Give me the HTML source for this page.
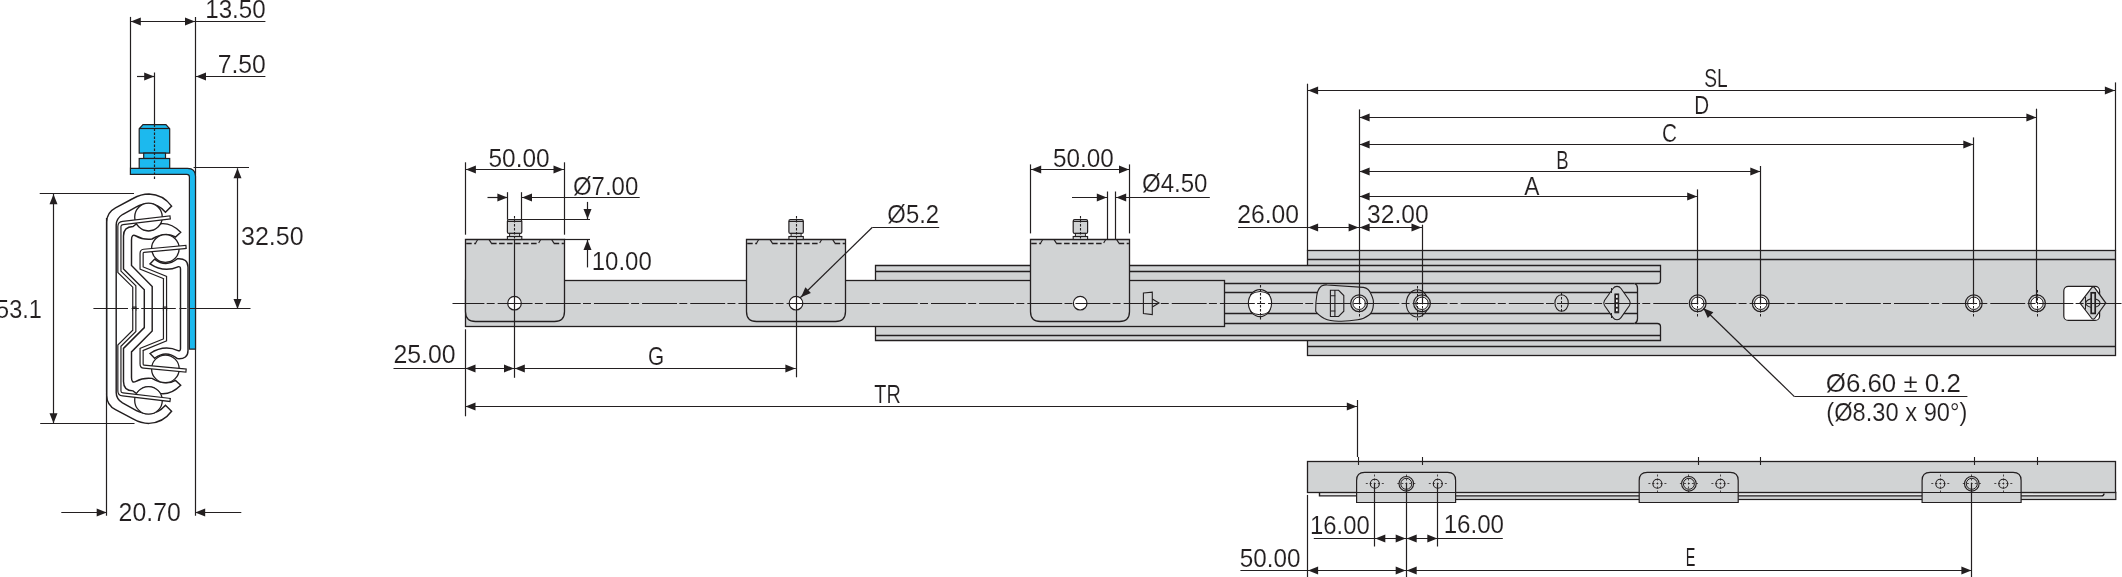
<!DOCTYPE html>
<html><head><meta charset="utf-8"><style>
html,body{margin:0;padding:0;background:#fff;width:2122px;height:577px;overflow:hidden}
svg{display:block;will-change:transform}
text{font-family:"Liberation Sans",sans-serif;fill:#231f20;stroke:#fff;stroke-width:0.12px}
</style></head><body>
<svg width="2122" height="577" viewBox="0 0 2122 577" stroke="#231f20" fill="none">
<line x1="130.5" y1="16.9" x2="130.5" y2="168.3" stroke-width="1.2" />
<line x1="195.5" y1="16.9" x2="195.5" y2="515.8" stroke-width="1.2" />
<line x1="130.3" y1="21.5" x2="265.4" y2="21.5" stroke-width="1.2" />
<polygon points="130.8,21.5 140.8,17.5 140.8,25.5" fill="#231f20" stroke="none"/>
<polygon points="195.0,21.5 185.0,17.5 185.0,25.5" fill="#231f20" stroke="none"/>
<text x="205.23" y="17.70" font-size="25" textLength="60.51" lengthAdjust="spacingAndGlyphs">13.50</text>
<line x1="137" y1="76.5" x2="154.6" y2="76.5" stroke-width="1.2" />
<polygon points="154.2,76.5 144.2,72.5 144.2,80.5" fill="#231f20" stroke="none"/>
<line x1="195.8" y1="76.5" x2="265.4" y2="76.5" stroke-width="1.2" />
<polygon points="196.0,76.5 206.0,72.5 206.0,80.5" fill="#231f20" stroke="none"/>
<text x="217.71" y="72.80" font-size="25" textLength="48.15" lengthAdjust="spacingAndGlyphs">7.50</text>
<line x1="154.5" y1="72.5" x2="154.5" y2="124.6" stroke-width="1.2" />
<line x1="193.6" y1="167.5" x2="249" y2="167.5" stroke-width="1.2" />
<line x1="237.5" y1="168.3" x2="237.5" y2="308.9" stroke-width="1.2" />
<polygon points="237.5,168.3 233.5,178.3 241.5,178.3" fill="#231f20" stroke="none"/>
<polygon points="237.5,308.9 233.5,298.9 241.5,298.9" fill="#231f20" stroke="none"/>
<text x="241.00" y="245.30" font-size="25" textLength="62.67" lengthAdjust="spacingAndGlyphs">32.50</text>
<line x1="39.7" y1="193.5" x2="134" y2="193.5" stroke-width="1.2" />
<line x1="40.2" y1="423.5" x2="134.5" y2="423.5" stroke-width="1.2" />
<line x1="53.5" y1="193.8" x2="53.5" y2="423.6" stroke-width="1.2" />
<polygon points="53.5,194.3 49.5,204.3 57.5,204.3" fill="#231f20" stroke="none"/>
<polygon points="53.5,423.3 49.5,413.3 57.5,413.3" fill="#231f20" stroke="none"/>
<text x="-3.94" y="317.70" font-size="25" textLength="45.77" lengthAdjust="spacingAndGlyphs">53.1</text>
<line x1="61.3" y1="512.5" x2="106.7" y2="512.5" stroke-width="1.2" />
<polygon points="106.7,512.5 96.7,508.5 96.7,516.5" fill="#231f20" stroke="none"/>
<line x1="195.2" y1="512.5" x2="241.3" y2="512.5" stroke-width="1.2" />
<polygon points="195.2,512.5 205.2,508.5 205.2,516.5" fill="#231f20" stroke="none"/>
<line x1="106.5" y1="218" x2="106.5" y2="515.8" stroke-width="1.2" />
<text x="118.61" y="521.40" font-size="25" textLength="62.15" lengthAdjust="spacingAndGlyphs">20.70</text>
<g id="half" fill="none" stroke-width="1.45">
<path d="M106.7,308.7 V222 Q106.7,212.5 115.5,207.8 L133,198.5 Q141,194 149,194 Q163,194.5 171.6,206.1 L165.5,212.2 Q158,203.8 149,203.8 Q142,203.8 136.4,206.8 L122.5,214.5 Q116.2,218.5 116.2,225 V308.7"/>
<path d="M144.3,308.7 V289.8 L123.5,269 V236 Q123.5,226.8 133,226.5 L136.5,223.8 Q148.5,237.8 160.5,223.8 Q171,222.5 180.7,232.2 L175.5,237 Q165.5,231.2 152,239 Q143,240 136,236 Q131.5,233.5 131.5,240 V265.5 L152.2,286.5 V308.7"/>
<path d="M180.5,308.7 V269 Q180.5,266 178,266.8 Q164,273 150,263.9 L154.6,259.1 Q166,268 177.4,258.8 Q188,258 188,267 V308.7"/>
<circle cx="148.5" cy="217" r="13.8" fill="#fff" stroke-width="1.3"/>
<circle cx="165.4" cy="248.5" r="13.8" fill="#fff" stroke-width="1.3"/>
<path d="M168.6,217.6 L122.8,223 Q119.4,223.4 119.4,226.5 V271.8 L134.3,286.5 V308.7" stroke-width="4.3" stroke-linecap="square"/>
<path d="M168.6,217.6 L122.8,223 Q119.4,223.4 119.4,226.5 V271.8 L134.3,286.5 V308.7" stroke="#fff" stroke-width="1.9" stroke-linecap="square"/>
<path d="M184.5,247 L143.8,250.8 Q141.6,251 141.6,253.5 V268 L165,277.5 V308.7" stroke-width="4.3" stroke-linecap="square"/>
<path d="M184.5,247 L143.8,250.8 Q141.6,251 141.6,253.5 V268 L165,277.5 V308.7" stroke="#fff" stroke-width="1.9" stroke-linecap="square"/>
</g>
<use href="#half" transform="translate(0,617.4) scale(1,-1)"/>
<path d="M130.4,168.3 H187.5 Q195.5,168.3 195.5,176.3 V349.1 H189.4 V177 Q189.4,174.4 186.8,174.4 H130.4 Z" fill="#1cb9ee" stroke-width="1.2"/>
<path d="M143,124.6 H165.9 L169.7,128.8 V153.1 H139.2 V128.8 Z" fill="#1cb9ee" stroke-width="1.2"/>
<rect x="143.7" y="153.1" width="21.8" height="5.4" fill="#1cb9ee" stroke-width="1.2"/>
<rect x="139.2" y="158.5" width="30.5" height="9.8" fill="#1cb9ee" stroke-width="1.2"/>
<line x1="139.2" y1="128.5" x2="169.7" y2="128.5" stroke-width="1.2" />
<line x1="154.5" y1="124.6" x2="154.5" y2="180" stroke-width="1.2" stroke-dasharray="2.5 1.5"/>
<line x1="93.4" y1="308.5" x2="189.6" y2="308.5" stroke-width="1.2" stroke-dasharray="34.6 3.6 7.2 2.4"/>
<line x1="189.6" y1="308.5" x2="250.5" y2="308.5" stroke-width="1.2" />
<rect x="1307.5" y="250.5" width="808" height="105" fill="#d1d3d4" stroke-width="1.3"/>
<line x1="1307.5" y1="259.5" x2="2115.5" y2="259.5" stroke-width="1.3" />
<line x1="1307.5" y1="346.5" x2="2115.5" y2="346.5" stroke-width="1.3" />
<path d="M875.5,265.5 H1660.5 V280.3 Q1660.5,283.5 1657.3,283.5 H1634.6 Q1637.5,284.8 1637.5,288.3 V318.7 Q1637.5,322.2 1634.6,323.5 H1657.3 Q1660.5,323.5 1660.5,326.7 V340.5 H875.5 Z" fill="#d1d3d4" stroke-width="1.3"/>
<line x1="875.5" y1="271.5" x2="1660.5" y2="271.5" stroke-width="1.3" />
<line x1="875.5" y1="335.5" x2="1660.5" y2="335.5" stroke-width="1.3" />
<line x1="1224.5" y1="283.5" x2="1634.6" y2="283.5" stroke-width="1.3" />
<line x1="1224.5" y1="323.5" x2="1634.6" y2="323.5" stroke-width="1.3" />
<line x1="1224.5" y1="292.5" x2="1637.5" y2="292.5" stroke-width="1.3" />
<line x1="1224.5" y1="313.5" x2="1637.5" y2="313.5" stroke-width="1.3" />
<rect x="465.5" y="280.5" width="759" height="46" fill="#d1d3d4" stroke-width="1.3"/>
<path d="M465.5,239.5 H564.5 V311.5 Q564.5,321.5 554.5,321.5 H475.5 Q465.5,321.5 465.5,311.5 Z" fill="#d1d3d4" stroke-width="1.3"/>
<line x1="466.2" y1="243.5" x2="476.1" y2="243.5" stroke-width="1.3" stroke-dasharray="5.5 2.5"/>
<line x1="491.1" y1="243.5" x2="538.7" y2="243.5" stroke-width="1.3" stroke-dasharray="5.5 2.5"/>
<line x1="553.7" y1="243.5" x2="563.9" y2="243.5" stroke-width="1.3" stroke-dasharray="5.5 2.5"/>
<line x1="475.7" y1="243.1" x2="477.7" y2="239.6" stroke-width="1.1" />
<line x1="491.3" y1="243.1" x2="489.1" y2="239.6" stroke-width="1.1" />
<line x1="538.7" y1="243.1" x2="540.7" y2="239.6" stroke-width="1.1" />
<line x1="553.9" y1="243.1" x2="551.7" y2="239.6" stroke-width="1.1" />
<rect x="507.40000000000003" y="219.7" width="14.4" height="13.7" rx="1.5" fill="#d1d3d4" stroke-width="1.2"/>
<line x1="507.40000000000003" y1="221.5" x2="521.8000000000001" y2="221.5" stroke-width="1.0" />
<rect x="509.6" y="233.4" width="10" height="3.1" fill="#d1d3d4" stroke-width="1.0"/>
<rect x="507.40000000000003" y="236.5" width="14.4" height="3" fill="#d1d3d4" stroke-width="1.1"/>
<line x1="514.5" y1="216" x2="514.5" y2="239" stroke-width="1.1" stroke-dasharray="2.5 1.5"/>
<path d="M746.5,239.5 H845.5 V311.5 Q845.5,321.5 835.5,321.5 H756.5 Q746.5,321.5 746.5,311.5 Z" fill="#d1d3d4" stroke-width="1.3"/>
<line x1="747.2" y1="243.5" x2="757.1" y2="243.5" stroke-width="1.3" stroke-dasharray="5.5 2.5"/>
<line x1="772.1" y1="243.5" x2="819.7" y2="243.5" stroke-width="1.3" stroke-dasharray="5.5 2.5"/>
<line x1="834.7" y1="243.5" x2="844.9" y2="243.5" stroke-width="1.3" stroke-dasharray="5.5 2.5"/>
<line x1="756.7" y1="243.1" x2="758.7" y2="239.6" stroke-width="1.1" />
<line x1="772.3" y1="243.1" x2="770.1" y2="239.6" stroke-width="1.1" />
<line x1="819.7" y1="243.1" x2="821.7" y2="239.6" stroke-width="1.1" />
<line x1="834.9" y1="243.1" x2="832.7" y2="239.6" stroke-width="1.1" />
<rect x="788.9" y="219.7" width="14.4" height="13.7" rx="1.5" fill="#d1d3d4" stroke-width="1.2"/>
<line x1="788.9" y1="221.5" x2="803.3000000000001" y2="221.5" stroke-width="1.0" />
<rect x="791.1" y="233.4" width="10" height="3.1" fill="#d1d3d4" stroke-width="1.0"/>
<rect x="788.9" y="236.5" width="14.4" height="3" fill="#d1d3d4" stroke-width="1.1"/>
<line x1="796.5" y1="216" x2="796.5" y2="239" stroke-width="1.1" stroke-dasharray="2.5 1.5"/>
<path d="M1030.5,239.5 H1129.5 V311.5 Q1129.5,321.5 1119.5,321.5 H1040.5 Q1030.5,321.5 1030.5,311.5 Z" fill="#d1d3d4" stroke-width="1.3"/>
<line x1="1031.2" y1="243.5" x2="1041.1" y2="243.5" stroke-width="1.3" stroke-dasharray="5.5 2.5"/>
<line x1="1056.1" y1="243.5" x2="1103.7" y2="243.5" stroke-width="1.3" stroke-dasharray="5.5 2.5"/>
<line x1="1118.7" y1="243.5" x2="1128.9" y2="243.5" stroke-width="1.3" stroke-dasharray="5.5 2.5"/>
<line x1="1040.7" y1="243.1" x2="1042.7" y2="239.6" stroke-width="1.1" />
<line x1="1056.3" y1="243.1" x2="1054.1" y2="239.6" stroke-width="1.1" />
<line x1="1103.7" y1="243.1" x2="1105.7" y2="239.6" stroke-width="1.1" />
<line x1="1118.9" y1="243.1" x2="1116.7" y2="239.6" stroke-width="1.1" />
<rect x="1073.2" y="219.7" width="14.4" height="13.7" rx="1.5" fill="#d1d3d4" stroke-width="1.2"/>
<line x1="1073.2" y1="221.5" x2="1087.6000000000001" y2="221.5" stroke-width="1.0" />
<rect x="1075.4" y="233.4" width="10" height="3.1" fill="#d1d3d4" stroke-width="1.0"/>
<rect x="1073.2" y="236.5" width="14.4" height="3" fill="#d1d3d4" stroke-width="1.1"/>
<line x1="1080.5" y1="216" x2="1080.5" y2="239" stroke-width="1.1" stroke-dasharray="2.5 1.5"/>
<circle cx="514.5" cy="303.2" r="6.8" fill="#fff" stroke-width="1.2"/>
<circle cx="796" cy="303.2" r="6.8" fill="#fff" stroke-width="1.2"/>
<circle cx="1080.2" cy="303.2" r="6.8" fill="#fff" stroke-width="1.2"/>
<path d="M1143.4,293 L1152.3,292.2 V314.6 L1143.4,313.6 Z" fill="#d1d3d4" stroke-width="1.1"/>
<path d="M1152.3,299.1 L1159,303 L1152.3,307" fill="none" stroke-width="1.1"/>
<ellipse cx="1260" cy="303.1" rx="11.6" ry="13.5" fill="#fff" stroke-width="1.2"/>
<path d="M1250,295 Q1260,288 1270,295 M1250,311.5 Q1260,318 1270,311.5" fill="none" stroke-width="1.0"/>
<line x1="1260.5" y1="285" x2="1260.5" y2="319.5" stroke-width="1.1" stroke-dasharray="2.5 1.5"/>
<path d="M1321.4,286 Q1325,284.6 1327.2,285 L1363.4,287.4 Q1369,288.5 1371,294 Q1374,300 1373.4,304.6 Q1373,312 1369.1,315 Q1364,319 1357.7,319.8 Q1348,321.5 1338.6,321.2 Q1330,321 1324.3,318.4 Q1318,315 1315.7,311.2 Q1315.5,303 1316.7,296 Q1317.5,289.5 1321.4,286 Z" fill="#d1d3d4" stroke-width="1.1"/>
<path d="M1330.4,290.3 H1338.6 L1343.8,295.5 V311.2 L1338.6,316.5 H1330.4 Z M1334.9,290.3 V316.5" fill="none" stroke-width="1.1"/>
<path d="M1330.4,295.8 H1335.3 M1330.4,311 H1335.3" stroke-width="1.1"/>
<ellipse cx="1417.3" cy="303.4" rx="11" ry="13.6" fill="none" stroke-width="1.1"/>
<circle cx="1359.1" cy="303.3" r="8.4" fill="#d1d3d4" stroke-width="1.2"/>
<circle cx="1359.1" cy="303.3" r="6.2" fill="#fff" stroke-width="1.0"/>
<line x1="1359.5" y1="290" x2="1359.5" y2="317" stroke-width="1.0" stroke-dasharray="2.5 1.5"/>
<circle cx="1422" cy="303.3" r="8.4" fill="#d1d3d4" stroke-width="1.2"/>
<circle cx="1422" cy="303.3" r="6.2" fill="#fff" stroke-width="1.0"/>
<line x1="1422.5" y1="290" x2="1422.5" y2="317" stroke-width="1.0" stroke-dasharray="2.5 1.5"/>
<circle cx="1697.7" cy="303.3" r="8.4" fill="#d1d3d4" stroke-width="1.2"/>
<circle cx="1697.7" cy="303.3" r="6.2" fill="#fff" stroke-width="1.0"/>
<line x1="1697.5" y1="290" x2="1697.5" y2="317" stroke-width="1.0" stroke-dasharray="2.5 1.5"/>
<circle cx="1760.7" cy="303.3" r="8.4" fill="#d1d3d4" stroke-width="1.2"/>
<circle cx="1760.7" cy="303.3" r="6.2" fill="#fff" stroke-width="1.0"/>
<line x1="1760.5" y1="290" x2="1760.5" y2="317" stroke-width="1.0" stroke-dasharray="2.5 1.5"/>
<circle cx="1973.8" cy="303.3" r="8.4" fill="#d1d3d4" stroke-width="1.2"/>
<circle cx="1973.8" cy="303.3" r="6.2" fill="#fff" stroke-width="1.0"/>
<line x1="1973.5" y1="290" x2="1973.5" y2="317" stroke-width="1.0" stroke-dasharray="2.5 1.5"/>
<circle cx="2037" cy="303.3" r="8.4" fill="#d1d3d4" stroke-width="1.2"/>
<circle cx="2037" cy="303.3" r="6.2" fill="#fff" stroke-width="1.0"/>
<line x1="2037.5" y1="290" x2="2037.5" y2="317" stroke-width="1.0" stroke-dasharray="2.5 1.5"/>
<line x1="1417.5" y1="286" x2="1417.5" y2="321" stroke-width="1.0" stroke-dasharray="2.5 1.5"/>
<ellipse cx="1561.6" cy="303" rx="6.7" ry="8.2" fill="#d1d3d4" stroke-width="1.1"/>
<line x1="1561.5" y1="293" x2="1561.5" y2="313" stroke-width="1.0" stroke-dasharray="2.5 1.5"/>
<path d="M1617,286.4 Q1619.5,286.4 1621,288.5 L1629.5,300.5 Q1631,303 1629.5,305.5 L1621,317.6 Q1619.5,319.7 1617,319.7 Q1614.5,319.7 1613,317.6 L1604.5,305.5 Q1603,303 1604.5,300.5 L1613,288.5 Q1614.5,286.4 1617,286.4 Z" fill="#d1d3d4" stroke-width="1.1"/>
<rect x="1614.8" y="293.9" width="4" height="19" fill="#231f20" stroke-width="0.8"/>
<rect x="1616" y="295.2" width="1.7" height="2.6" fill="#fff" stroke="none"/>
<rect x="1616" y="299.6" width="1.7" height="2.6" fill="#fff" stroke="none"/>
<rect x="1616" y="304.2" width="1.7" height="2.6" fill="#fff" stroke="none"/>
<rect x="1616" y="308.6" width="1.7" height="2.6" fill="#fff" stroke="none"/>
<line x1="1611.5" y1="288" x2="1611.5" y2="293" stroke-width="1.0" />
<line x1="1611.5" y1="313" x2="1611.5" y2="318" stroke-width="1.0" />
<rect x="2063.8" y="286.4" width="35.8" height="34" rx="4.5" fill="#fff" stroke-width="1.2"/>
<path d="M2093.2,287 Q2094.2,287 2095,288.2 L2105.8,303.1 L2095,318 Q2094.2,319.2 2093.2,319.2 Q2092.2,319.2 2091.4,318 L2080,303.1 L2091.4,288.2 Q2092.2,287 2093.2,287 Z" fill="#d1d3d4" stroke-width="1.2"/>
<ellipse cx="2092.9" cy="303.1" rx="7.1" ry="4.3" fill="none" stroke-width="1.1"/>
<line x1="2085.5" y1="297" x2="2085.5" y2="309.5" stroke-width="1.0" />
<rect x="2091.2" y="292.8" width="4" height="20.6" fill="#d1d3d4" stroke-width="1.7"/>
<line x1="452.5" y1="303.5" x2="2122" y2="303.5" stroke-width="1.2" stroke-dasharray="34.9 2.3 7.95 3.0" stroke-dashoffset="3"/>
<line x1="465.5" y1="162.3" x2="465.5" y2="234.7" stroke-width="1.2" />
<line x1="564.5" y1="162.3" x2="564.5" y2="234.7" stroke-width="1.2" />
<line x1="465.4" y1="169.5" x2="564" y2="169.5" stroke-width="1.2" />
<polygon points="465.9,169.5 475.9,165.5 475.9,173.5" fill="#231f20" stroke="none"/>
<polygon points="563.5,169.5 553.5,165.5 553.5,173.5" fill="#231f20" stroke="none"/>
<text x="488.52" y="167.10" font-size="25" textLength="61.13" lengthAdjust="spacingAndGlyphs">50.00</text>
<line x1="487.5" y1="197.5" x2="507.9" y2="197.5" stroke-width="1.2" />
<polygon points="507.4,197.5 497.4,193.5 497.4,201.5" fill="#231f20" stroke="none"/>
<line x1="521.5" y1="197.5" x2="639.7" y2="197.5" stroke-width="1.2" />
<polygon points="522.0,197.5 532.0,193.5 532.0,201.5" fill="#231f20" stroke="none"/>
<line x1="507.5" y1="192.2" x2="507.5" y2="219.7" stroke-width="1.2" />
<line x1="521.5" y1="192.2" x2="521.5" y2="219.7" stroke-width="1.2" />
<text x="572.94" y="194.80" font-size="25" textLength="65.36" lengthAdjust="spacingAndGlyphs">Ø7.00</text>
<line x1="514.7" y1="219.5" x2="590" y2="219.5" stroke-width="1.2" />
<line x1="587.5" y1="201.9" x2="587.5" y2="219" stroke-width="1.2" />
<polygon points="587.5,219.0 583.5,209.0 591.5,209.0" fill="#231f20" stroke="none"/>
<line x1="563.7" y1="239.5" x2="590" y2="239.5" stroke-width="1.2" />
<line x1="587.5" y1="239.5" x2="587.5" y2="267.4" stroke-width="1.2" />
<polygon points="587.5,239.9 583.5,249.9 591.5,249.9" fill="#231f20" stroke="none"/>
<text x="591.74" y="270.10" font-size="25" textLength="60.10" lengthAdjust="spacingAndGlyphs">10.00</text>
<line x1="465.5" y1="329.3" x2="465.5" y2="416.3" stroke-width="1.2" />
<line x1="514.5" y1="239.4" x2="514.5" y2="377.8" stroke-width="1.2" />
<line x1="796.5" y1="239.4" x2="796.5" y2="377.3" stroke-width="1.2" />
<line x1="393.5" y1="368.5" x2="795.8" y2="368.5" stroke-width="1.2" />
<polygon points="465.5,368.5 475.5,364.5 475.5,372.5" fill="#231f20" stroke="none"/>
<polygon points="514.0,368.5 504.0,364.5 504.0,372.5" fill="#231f20" stroke="none"/>
<polygon points="514.8,368.5 524.8,364.5 524.8,372.5" fill="#231f20" stroke="none"/>
<polygon points="795.4,368.5 785.4,364.5 785.4,372.5" fill="#231f20" stroke="none"/>
<text x="393.41" y="363.10" font-size="25" textLength="62.15" lengthAdjust="spacingAndGlyphs">25.00</text>
<text x="647.97" y="364.90" font-size="25" textLength="16.13" lengthAdjust="spacingAndGlyphs">G</text>
<line x1="465" y1="406.5" x2="1357.3" y2="406.5" stroke-width="1.2" />
<polygon points="465.5,406.5 475.5,402.5 475.5,410.5" fill="#231f20" stroke="none"/>
<polygon points="1356.8,406.5 1346.8,402.5 1346.8,410.5" fill="#231f20" stroke="none"/>
<text x="874.30" y="402.90" font-size="25" textLength="26.45" lengthAdjust="spacingAndGlyphs">TR</text>
<line x1="1357.5" y1="400" x2="1357.5" y2="457" stroke-width="1.2" />
<line x1="800.2" y1="297.8" x2="872.4" y2="227.2" stroke-width="1.2" />
<line x1="872.4" y1="227.5" x2="939.2" y2="227.5" stroke-width="1.2" />
<polygon points="801.0,297.2 805.4,287.3 810.9,293.1" fill="#231f20" stroke="none"/>
<text x="887.35" y="222.80" font-size="25" textLength="51.70" lengthAdjust="spacingAndGlyphs">Ø5.2</text>
<line x1="1030.5" y1="164.4" x2="1030.5" y2="233.4" stroke-width="1.2" />
<line x1="1129.5" y1="164.4" x2="1129.5" y2="233.4" stroke-width="1.2" />
<line x1="1030.7" y1="169.5" x2="1129.5" y2="169.5" stroke-width="1.2" />
<polygon points="1031.2,169.5 1041.2,165.5 1041.2,173.5" fill="#231f20" stroke="none"/>
<polygon points="1129.0,169.5 1119.0,165.5 1119.0,173.5" fill="#231f20" stroke="none"/>
<text x="1053.03" y="167.00" font-size="25" textLength="60.82" lengthAdjust="spacingAndGlyphs">50.00</text>
<line x1="1107.5" y1="191.5" x2="1107.5" y2="239" stroke-width="1.2" />
<line x1="1115.5" y1="191.5" x2="1115.5" y2="239" stroke-width="1.2" />
<line x1="1072" y1="197.5" x2="1107.2" y2="197.5" stroke-width="1.2" />
<polygon points="1106.8,197.5 1096.8,193.5 1096.8,201.5" fill="#231f20" stroke="none"/>
<line x1="1115.8" y1="197.5" x2="1209.8" y2="197.5" stroke-width="1.2" />
<polygon points="1116.2,197.5 1126.2,193.5 1126.2,201.5" fill="#231f20" stroke="none"/>
<text x="1141.94" y="192.30" font-size="25" textLength="65.57" lengthAdjust="spacingAndGlyphs">Ø4.50</text>
<line x1="1307.5" y1="83.7" x2="1307.5" y2="250.8" stroke-width="1.2" />
<line x1="2115.5" y1="82.4" x2="2115.5" y2="250.8" stroke-width="1.2" />
<line x1="1359.5" y1="109.4" x2="1359.5" y2="303" stroke-width="1.2" />
<line x1="1422.5" y1="224.7" x2="1422.5" y2="303" stroke-width="1.2" />
<line x1="1697.5" y1="189.4" x2="1697.5" y2="303" stroke-width="1.2" />
<line x1="1760.5" y1="166" x2="1760.5" y2="303" stroke-width="1.2" />
<line x1="1973.5" y1="137.4" x2="1973.5" y2="303" stroke-width="1.2" />
<line x1="2036.5" y1="108.7" x2="2036.5" y2="303" stroke-width="1.2" />
<line x1="1307.6" y1="90.5" x2="2115.4" y2="90.5" stroke-width="1.2" />
<polygon points="1308.1,90.5 1318.1,86.5 1318.1,94.5" fill="#231f20" stroke="none"/>
<polygon points="2114.9,90.5 2104.9,86.5 2104.9,94.5" fill="#231f20" stroke="none"/>
<line x1="1359.1" y1="117.5" x2="2036.9" y2="117.5" stroke-width="1.2" />
<polygon points="1359.6,117.5 1369.6,113.5 1369.6,121.5" fill="#231f20" stroke="none"/>
<polygon points="2036.4,117.5 2026.4,113.5 2026.4,121.5" fill="#231f20" stroke="none"/>
<line x1="1359.1" y1="144.5" x2="1973.8" y2="144.5" stroke-width="1.2" />
<polygon points="1359.6,144.5 1369.6,140.5 1369.6,148.5" fill="#231f20" stroke="none"/>
<polygon points="1973.3,144.5 1963.3,140.5 1963.3,148.5" fill="#231f20" stroke="none"/>
<line x1="1359.1" y1="171.5" x2="1760.8" y2="171.5" stroke-width="1.2" />
<polygon points="1359.6,171.5 1369.6,167.5 1369.6,175.5" fill="#231f20" stroke="none"/>
<polygon points="1760.3,171.5 1750.3,167.5 1750.3,175.5" fill="#231f20" stroke="none"/>
<line x1="1359.1" y1="196.5" x2="1697.7" y2="196.5" stroke-width="1.2" />
<polygon points="1359.6,196.5 1369.6,192.5 1369.6,200.5" fill="#231f20" stroke="none"/>
<polygon points="1697.2,196.5 1687.2,192.5 1687.2,200.5" fill="#231f20" stroke="none"/>
<line x1="1238" y1="227.5" x2="1422" y2="227.5" stroke-width="1.2" />
<polygon points="1308.1,227.5 1318.1,223.5 1318.1,231.5" fill="#231f20" stroke="none"/>
<polygon points="1358.6,227.5 1348.6,223.5 1348.6,231.5" fill="#231f20" stroke="none"/>
<polygon points="1359.6,227.5 1369.6,223.5 1369.6,231.5" fill="#231f20" stroke="none"/>
<polygon points="1421.5,227.5 1411.5,223.5 1411.5,231.5" fill="#231f20" stroke="none"/>
<text x="1237.21" y="222.90" font-size="25" textLength="61.84" lengthAdjust="spacingAndGlyphs">26.00</text>
<text x="1367.12" y="222.90" font-size="25" textLength="61.54" lengthAdjust="spacingAndGlyphs">32.00</text>
<text x="1524.30" y="194.90" font-size="25" textLength="15.22" lengthAdjust="spacingAndGlyphs">A</text>
<text x="1556.16" y="168.80" font-size="25" textLength="12.35" lengthAdjust="spacingAndGlyphs">B</text>
<text x="1661.97" y="141.60" font-size="25" textLength="15.01" lengthAdjust="spacingAndGlyphs">C</text>
<text x="1694.28" y="113.70" font-size="25" textLength="14.88" lengthAdjust="spacingAndGlyphs">D</text>
<text x="1704.23" y="86.60" font-size="25" textLength="23.42" lengthAdjust="spacingAndGlyphs">SL</text>
<line x1="1703.4" y1="308.2" x2="1794.4" y2="396.6" stroke-width="1.2" />
<line x1="1794.4" y1="396.5" x2="1967.4" y2="396.5" stroke-width="1.2" />
<polygon points="1703.4,308.2 1713.4,312.3 1707.8,318.0" fill="#231f20" stroke="none"/>
<text x="1825.77" y="392.00" font-size="25" textLength="135.02" lengthAdjust="spacingAndGlyphs">Ø6.60 ± 0.2</text>
<text x="1826.35" y="421.30" font-size="25" textLength="140.95" lengthAdjust="spacingAndGlyphs">(Ø8.30 x 90°)</text>
<rect x="1455.3" y="492.4" width="660.5" height="7.1" fill="#d1d3d4" stroke-width="1.2"/>
<path d="M1319.5,492.4 V495.9 H2101.5 Q2104,495.9 2104,493.5" fill="#e6e7e8" stroke-width="1.4"/>
<rect x="1307.5" y="461.5" width="808" height="31" fill="#d1d3d4" stroke-width="1.3"/>
<path d="M1356.6,502.5 V480.4 Q1356.6,472.4 1364.6,472.4 H1447.6 Q1455.6,472.4 1455.6,480.4 V502.5 Z" fill="#d1d3d4" stroke-width="1.2"/>
<line x1="1356.6" y1="492.5" x2="1455.6" y2="492.5" stroke-width="1.2" />
<circle cx="1374.8" cy="483.8" r="4.5" fill="#d1d3d4" stroke-width="1.1"/>
<line x1="1365.8" y1="483.5" x2="1383.8" y2="483.5" stroke-width="0.8" stroke-dasharray="2 2"/>
<line x1="1374.5" y1="474.5" x2="1374.5" y2="493" stroke-width="0.8" stroke-dasharray="2 2"/>
<circle cx="1406.3" cy="483.8" r="7.3" fill="#d1d3d4" stroke-width="1.1"/>
<circle cx="1406.3" cy="483.8" r="5.5" fill="#d1d3d4" stroke-width="1.0"/>
<line x1="1397.3" y1="483.5" x2="1415.3" y2="483.5" stroke-width="0.8" stroke-dasharray="2 2"/>
<line x1="1406.5" y1="474.5" x2="1406.5" y2="493" stroke-width="0.8" stroke-dasharray="2 2"/>
<circle cx="1437.8" cy="483.8" r="4.5" fill="#d1d3d4" stroke-width="1.1"/>
<line x1="1428.8" y1="483.5" x2="1446.8" y2="483.5" stroke-width="0.8" stroke-dasharray="2 2"/>
<line x1="1437.5" y1="474.5" x2="1437.5" y2="493" stroke-width="0.8" stroke-dasharray="2 2"/>
<path d="M1639.2,502.5 V480.4 Q1639.2,472.4 1647.2,472.4 H1730.2 Q1738.2,472.4 1738.2,480.4 V502.5 Z" fill="#d1d3d4" stroke-width="1.2"/>
<line x1="1639.2" y1="492.5" x2="1738.2" y2="492.5" stroke-width="1.2" />
<circle cx="1657.4" cy="483.8" r="4.5" fill="#d1d3d4" stroke-width="1.1"/>
<line x1="1648.4" y1="483.5" x2="1666.4" y2="483.5" stroke-width="0.8" stroke-dasharray="2 2"/>
<line x1="1657.5" y1="474.5" x2="1657.5" y2="493" stroke-width="0.8" stroke-dasharray="2 2"/>
<circle cx="1688.9" cy="483.8" r="7.3" fill="#d1d3d4" stroke-width="1.1"/>
<circle cx="1688.9" cy="483.8" r="5.5" fill="#d1d3d4" stroke-width="1.0"/>
<line x1="1679.9" y1="483.5" x2="1697.9" y2="483.5" stroke-width="0.8" stroke-dasharray="2 2"/>
<line x1="1688.5" y1="474.5" x2="1688.5" y2="493" stroke-width="0.8" stroke-dasharray="2 2"/>
<circle cx="1720.4" cy="483.8" r="4.5" fill="#d1d3d4" stroke-width="1.1"/>
<line x1="1711.4" y1="483.5" x2="1729.4" y2="483.5" stroke-width="0.8" stroke-dasharray="2 2"/>
<line x1="1720.5" y1="474.5" x2="1720.5" y2="493" stroke-width="0.8" stroke-dasharray="2 2"/>
<path d="M1922.1,502.5 V480.4 Q1922.1,472.4 1930.1,472.4 H2013.1 Q2021.1,472.4 2021.1,480.4 V502.5 Z" fill="#d1d3d4" stroke-width="1.2"/>
<line x1="1922.1" y1="492.5" x2="2021.1" y2="492.5" stroke-width="1.2" />
<circle cx="1940.3" cy="483.8" r="4.5" fill="#d1d3d4" stroke-width="1.1"/>
<line x1="1931.3" y1="483.5" x2="1949.3" y2="483.5" stroke-width="0.8" stroke-dasharray="2 2"/>
<line x1="1940.5" y1="474.5" x2="1940.5" y2="493" stroke-width="0.8" stroke-dasharray="2 2"/>
<circle cx="1971.8" cy="483.8" r="7.3" fill="#d1d3d4" stroke-width="1.1"/>
<circle cx="1971.8" cy="483.8" r="5.5" fill="#d1d3d4" stroke-width="1.0"/>
<line x1="1962.8" y1="483.5" x2="1980.8" y2="483.5" stroke-width="0.8" stroke-dasharray="2 2"/>
<line x1="1971.5" y1="474.5" x2="1971.5" y2="493" stroke-width="0.8" stroke-dasharray="2 2"/>
<circle cx="2003.3" cy="483.8" r="4.5" fill="#d1d3d4" stroke-width="1.1"/>
<line x1="1994.3" y1="483.5" x2="2012.3" y2="483.5" stroke-width="0.8" stroke-dasharray="2 2"/>
<line x1="2003.5" y1="474.5" x2="2003.5" y2="493" stroke-width="0.8" stroke-dasharray="2 2"/>
<line x1="1358.5" y1="457" x2="1358.5" y2="465" stroke-width="1.1" />
<line x1="1422.5" y1="457" x2="1422.5" y2="465" stroke-width="1.1" />
<line x1="1698.5" y1="457" x2="1698.5" y2="465" stroke-width="1.1" />
<line x1="1760.5" y1="457" x2="1760.5" y2="465" stroke-width="1.1" />
<line x1="1974.5" y1="457" x2="1974.5" y2="465" stroke-width="1.1" />
<line x1="2037.5" y1="457" x2="2037.5" y2="465" stroke-width="1.1" />
<line x1="1374.5" y1="483.8" x2="1374.5" y2="546.5" stroke-width="1.2" />
<line x1="1437.5" y1="483.8" x2="1437.5" y2="546.5" stroke-width="1.2" />
<line x1="1406.5" y1="483.8" x2="1406.5" y2="577" stroke-width="1.2" />
<line x1="1971.5" y1="483.8" x2="1971.5" y2="577" stroke-width="1.2" />
<line x1="1307.5" y1="494.9" x2="1307.5" y2="577" stroke-width="1.2" />
<line x1="1313.8" y1="538.5" x2="1502.8" y2="538.5" stroke-width="1.2" />
<polygon points="1375.3,538.5 1385.3,534.5 1385.3,542.5" fill="#231f20" stroke="none"/>
<polygon points="1405.7,538.5 1395.7,534.5 1395.7,542.5" fill="#231f20" stroke="none"/>
<polygon points="1406.7,538.5 1416.7,534.5 1416.7,542.5" fill="#231f20" stroke="none"/>
<polygon points="1437.3,538.5 1427.3,534.5 1427.3,542.5" fill="#231f20" stroke="none"/>
<text x="1310.05" y="533.50" font-size="25" textLength="59.59" lengthAdjust="spacingAndGlyphs">16.00</text>
<text x="1443.63" y="532.90" font-size="25" textLength="60.41" lengthAdjust="spacingAndGlyphs">16.00</text>
<line x1="1240.4" y1="570.5" x2="1971.9" y2="570.5" stroke-width="1.2" />
<polygon points="1308.1,570.5 1318.1,566.5 1318.1,574.5" fill="#231f20" stroke="none"/>
<polygon points="1405.7,570.5 1395.7,566.5 1395.7,574.5" fill="#231f20" stroke="none"/>
<polygon points="1406.7,570.5 1416.7,566.5 1416.7,574.5" fill="#231f20" stroke="none"/>
<polygon points="1971.4,570.5 1961.4,566.5 1961.4,574.5" fill="#231f20" stroke="none"/>
<text x="1239.83" y="567.10" font-size="25" textLength="60.72" lengthAdjust="spacingAndGlyphs">50.00</text>
<text x="1685.72" y="566.00" font-size="25" textLength="9.68" lengthAdjust="spacingAndGlyphs">E</text>
</svg>
</body></html>
